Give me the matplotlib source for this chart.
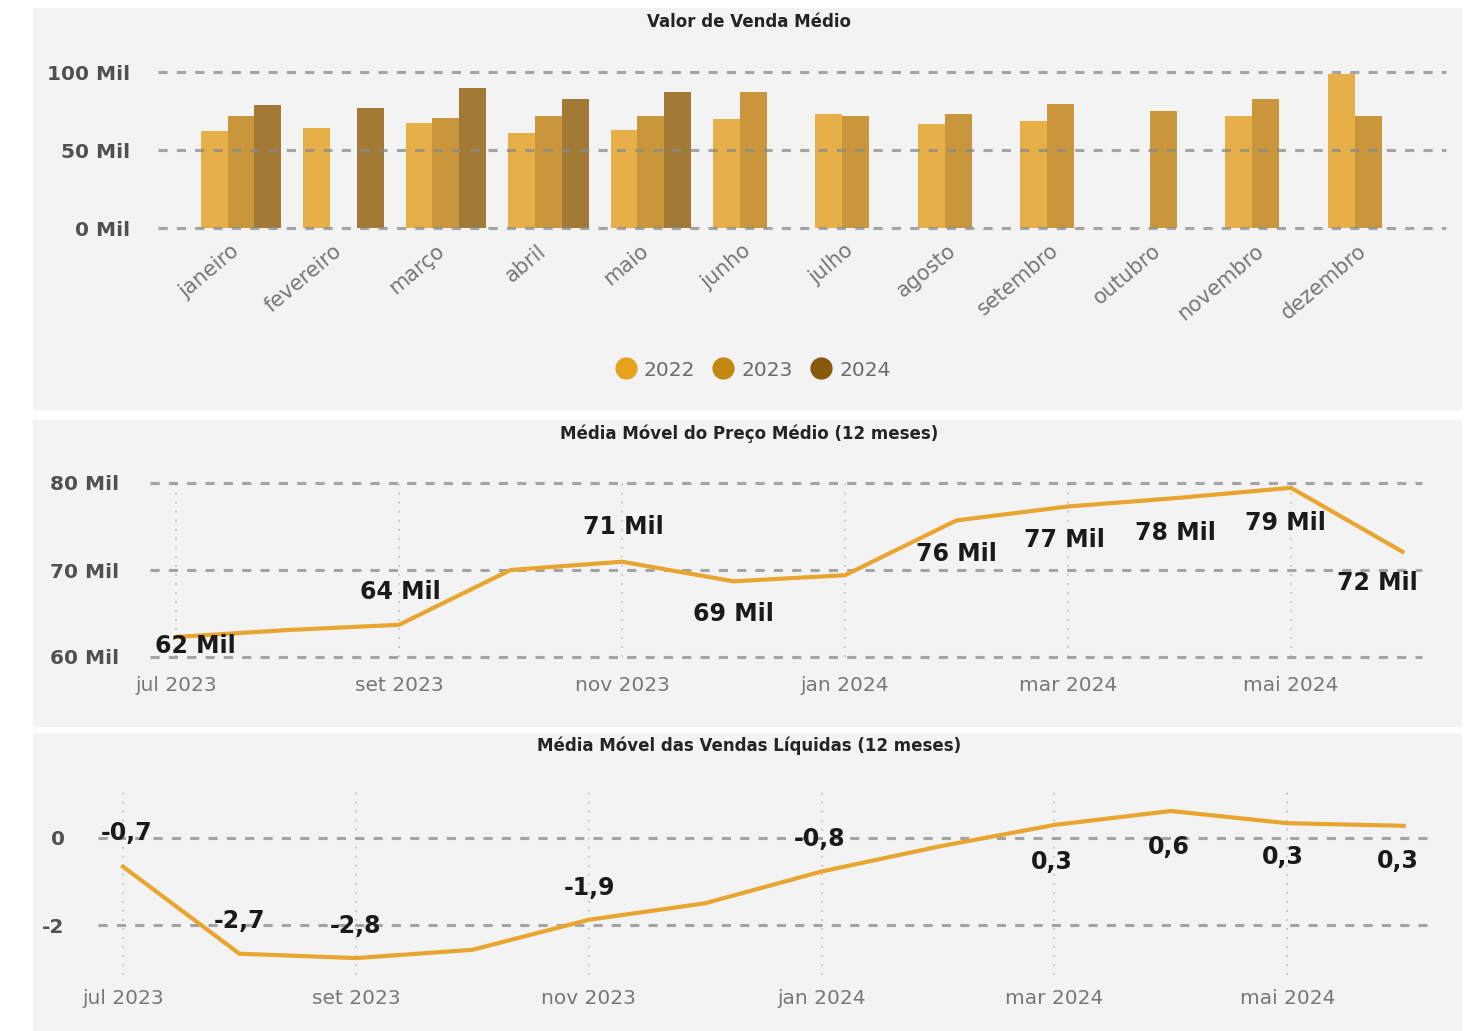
import numpy as np
import matplotlib
matplotlib.use('Agg')
import matplotlib.pyplot as plt
import matplotlib.transforms as mtransforms
from matplotlib.patches import Rectangle
from matplotlib.lines import Line2D

W, H = 1475, 1031

# --- dados ---
meses = ['janeiro', 'fevereiro', 'março', 'abril', 'maio', 'junho',
         'julho', 'agosto', 'setembro', 'outubro', 'novembro', 'dezembro']
anos = ['2022', '2023', '2024']
nan = np.nan
valor_2022 = [62.2, 64.1, 67.3, 61.1, 62.6, 70.1, 73.3, 66.9, 68.6, nan, 71.6, 98.5]
valor_2023 = [71.8, nan, 70.3, 71.8, 71.8, 87.4, 71.6, 73.3, 79.3, 75.0, 82.7, 71.8]
valor_2024 = [78.6, 77.1, 89.5, 82.7, 87.4, nan, nan, nan, nan, nan, nan, nan]

periodos = ['jul 2023', 'ago 2023', 'set 2023', 'out 2023', 'nov 2023', 'dez 2023',
            'jan 2024', 'fev 2024', 'mar 2024', 'abr 2024', 'mai 2024', 'jun 2024']
preco_mm = [62.3, 63.1, 63.7, 70.0, 70.95, 68.7, 69.4, 75.7, 77.3, 78.3, 79.45, 72.1]
vendas_mm = [-0.66, -2.66, -2.76, -2.57, -1.88, -1.5, -0.77, -0.2, 0.3, 0.62, 0.34, 0.28]

# quais pontos tem rótulo e onde (pixels relativos ao ponto)
preco_rotulos = {0: (19, -9), 2: (1, 33), 4: (1, 35), 5: (0, -33), 7: (0, -34),
                 8: (-4, -34), 9: (-4, -35), 10: (-6, -35), 11: (-25, -31)}
vendas_rotulos = {0: (4, 34), 1: (0, 33), 2: (0, 32), 4: (1, 32), 6: (-2, 32),
                  8: (-3, -37), 9: (-2, -36), 10: (-4, -34), 11: (-6, -35)}

cores_barras = ['#E7AF47', '#C9963C', '#A27A36']
cores_legenda = ['#E6A21C', '#C38712', '#86590B']
cor_linha = '#E8A530'
cor_grid = '#8a8a8a'
cor_tick = '#777777'
cor_ylab = '#505050'

fig = plt.figure(figsize=(W / 100, H / 100), dpi=100)
fig.patch.set_facecolor('white')


def painel(y0, y1):
    fig.patches.append(Rectangle((33 / W, 1 - y1 / H), (1462 - 33) / W, (y1 - y0) / H,
                                 transform=fig.transFigure, facecolor='#f3f3f3',
                                 edgecolor='none', zorder=-5))


def eixo(x0, y0, x1, y1):
    ax = fig.add_axes([x0 / W, 1 - y1 / H, (x1 - x0) / W, (y1 - y0) / H])
    ax.set_facecolor('none')
    for s in ax.spines.values():
        s.set_visible(False)
    ax.tick_params(length=0)
    return ax


def linhas_h(ax, valores):
    for v in valores:
        ax.axhline(v, color=cor_grid, lw=2.2, ls=(0, (3, 3)), alpha=0.75, zorder=3,
                   clip_on=False)


painel(8, 410)
painel(420, 727)
painel(733, 1031)

# --- Valor de Venda Médio ---
ax1 = eixo(158, 72, 1446, 228)
x = np.arange(len(meses))
larg = 0.2625
for i, serie in enumerate([valor_2022, valor_2023, valor_2024]):
    ax1.bar(x + (i - 1) * larg, serie, width=larg, color=cores_barras[i], zorder=2)
ax1.set_ylim(0, 100)
ax1.set_xlim(-0.81, 11.76)
linhas_h(ax1, [0, 50, 100])
ax1.set_yticks([0, 50, 100])
ax1.set_yticklabels(['0 Mil', '50 Mil', '100 Mil'], fontsize=14.5, color=cor_ylab, weight='bold')
ax1.tick_params(axis='y', pad=20)
ax1.set_xticks(x)
ax1.set_xticklabels(meses, rotation=40, ha='right', va='top', rotation_mode='anchor',
                    fontsize=15, color=cor_tick)
ax1.tick_params(axis='x', pad=9)
desloc = mtransforms.ScaledTranslation(-11 / 100, 0, fig.dpi_scale_trans)
for lab in ax1.get_xticklabels():
    lab.set_transform(lab.get_transform() + desloc)

handles = [Line2D([], [], marker='o', ls='', markersize=15, markerfacecolor=c,
                  markeredgecolor=c) for c in cores_legenda]
fig.legend(handles, anos, loc='center', bbox_to_anchor=(748 / W, 1 - 370 / H), ncol=3,
           frameon=False, handletextpad=-0.1, columnspacing=0.4, fontsize=14.5,
           labelcolor='#6a6a6a')

# --- Média Móvel do Preço Médio ---
ax2 = eixo(150, 483, 1422, 657)
xp = np.arange(len(periodos))
ax2.plot(xp, preco_mm, color=cor_linha, lw=3, zorder=4, solid_joinstyle='miter')
ax2.set_ylim(60, 80)
ax2.set_xlim(-0.233, 11.175)
linhas_h(ax2, [60, 70, 80])
ax2.set_yticks([60, 70, 80])
ax2.set_yticklabels(['60 Mil', '70 Mil', '80 Mil'], fontsize=14.5, color=cor_ylab, weight='bold')
ax2.tick_params(axis='y', pad=22)
ax2.set_xticks(xp[::2])
ax2.set_xticklabels(periodos[::2], fontsize=14.5, color=cor_tick)
ax2.tick_params(axis='x', pad=14)
ax2.grid(axis='x', color='#c4c4c4', ls=(0, (1, 4)), lw=1.3)
for i, (dx, dy) in preco_rotulos.items():
    ax2.annotate(f'{round(preco_mm[i])} Mil', (xp[i], preco_mm[i]), xytext=(dx, dy),
                 textcoords='offset pixels', ha='center', va='center', fontsize=17,
                 weight='bold', color='#1a1a1a', zorder=5)

# --- Média Móvel das Vendas Líquidas ---
ax3 = eixo(98, 790, 1427, 975)
ax3.plot(xp, vendas_mm, color=cor_linha, lw=3, zorder=4)
ax3.set_ylim(-3.149, 1.103)
ax3.set_xlim(-0.215, 11.2)
linhas_h(ax3, [-2, 0])
ax3.set_yticks([-2, 0])
ax3.set_yticklabels(['-2', '0'], fontsize=14.5, color=cor_ylab, weight='bold')
ax3.tick_params(axis='y', pad=24)
ax3.set_xticks(xp[::2])
ax3.set_xticklabels(periodos[::2], fontsize=14.5, color=cor_tick)
ax3.tick_params(axis='x', pad=10)
ax3.grid(axis='x', color='#c4c4c4', ls=(0, (1, 4)), lw=1.3)
for i, (dx, dy) in vendas_rotulos.items():
    txt = f'{vendas_mm[i]:.1f}'.replace('.', ',')
    ax3.annotate(txt, (xp[i], vendas_mm[i]), xytext=(dx, dy),
                 textcoords='offset pixels', ha='center', va='center', fontsize=17,
                 weight='bold', color='#1a1a1a', zorder=5)

# títulos
titulos = [('Valor de Venda Médio', 22), ('Média Móvel do Preço Médio (12 meses)', 434),
           ('Média Móvel das Vendas Líquidas (12 meses)', 746)]
for t, y in titulos:
    fig.text(749 / W, 1 - y / H, t, ha='center', va='center', fontsize=12,
             weight='bold', color='#252423')

fig.savefig('out.png', dpi=100)
